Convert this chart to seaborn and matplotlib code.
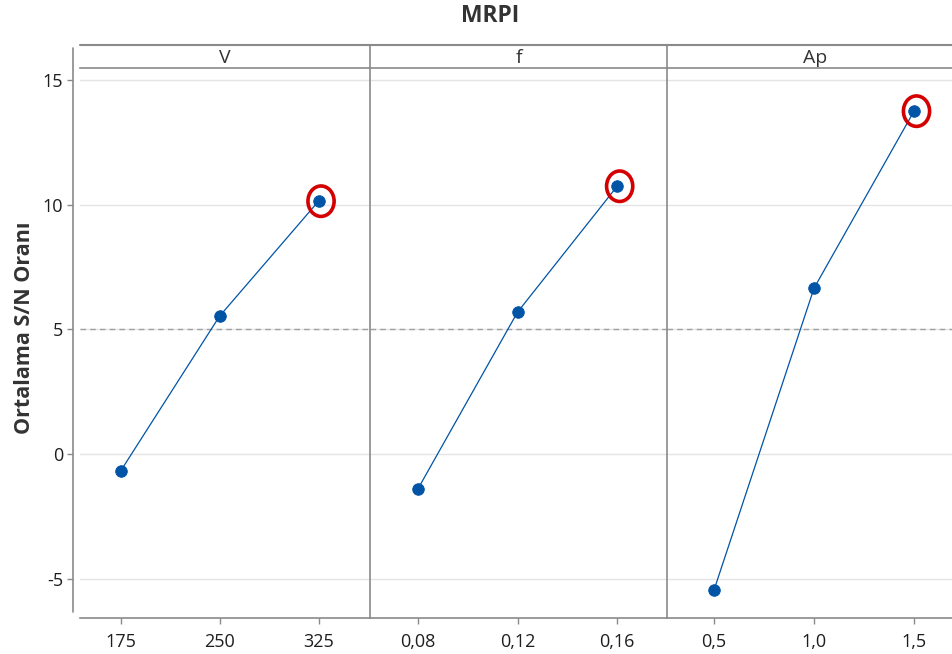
import numpy as np
import matplotlib
matplotlib.use("Agg")
import matplotlib.pyplot as plt
import seaborn as sns
from matplotlib.lines import Line2D
from matplotlib.path import Path
from matplotlib.transforms import Affine2D, ScaledTranslation, blended_transform_factory

## data (mean S/N per factor level)
factors = ["V", "f", "Ap"]
v_levels = ["175", "250", "325"]
v_sn = [-0.68, 5.53, 10.14]
f_levels = ["0,08", "0,12", "0,16"]
f_sn = [-1.40, 5.69, 10.74]
ap_levels = ["0,5", "1,0", "1,5"]
ap_sn = [-5.45, 6.65, 13.75]
grand_mean = 5.01
y_ticks = [-5, 0, 5, 10, 15]
y_ticklabels = ["-5", "0", "5", "10", "15"]

## style
sns.set_theme(style="white")
plt.rcParams["font.family"] = ["Open Sans", "DejaVu Sans"]

W, H = 952, 654
blue = "#0054a6"
red = "#d40000"
gray = "#8a8a8a"
txt = "#1e1e1e"

fig = plt.figure(figsize=(W / 100, H / 100), dpi=100)
gs = fig.add_gridspec(
    1, 3, left=80 / W, right=964 / W, bottom=1 - 618 / H, top=1 - 68 / H,
    wspace=0, width_ratios=[290, 297, 297],
)
axes = [fig.add_subplot(gs[0, i]) for i in range(3)]

# elliptical ring used to flag the best level (drawn a touch right of the dot)
ring = Path.unit_circle().transformed(Affine2D().scale(0.86, 1.0))
nudge = ScaledTranslation(2.5 / 100, 0, fig.dpi_scale_trans)

panels = [(v_levels, v_sn), (f_levels, f_sn), (ap_levels, ap_sn)]
xlims = [(-0.41, 2.52), (-0.48, 2.5), (-0.47, 2.5)]

for i, (ax, name, (levels, sn), xl) in enumerate(zip(axes, factors, panels, xlims)):
    ax.set_axisbelow(True)
    ax.grid(True, color="#e4e4e4", linewidth=1)
    ax.axhline(grand_mean, color="#a0a0a0", ls=(0, (4, 3)), lw=1, zorder=1)
    sns.pointplot(x=levels, y=sn, ax=ax, color=blue, markersize=8.3,
                  linewidth=0.9, zorder=3)
    best = int(np.argmax(sn))
    ax.scatter([best], [sn[best]], marker=ring, s=480, facecolors="none",
               edgecolors=red, linewidths=2.6, zorder=4,
               transform=ax.transData + nudge)

    ax.set_xlim(xl)
    ax.set_ylim(-6.57, 15.48)
    ax.set_yticks(y_ticks)
    ax.set_xlabel("")
    ax.set_ylabel("")

    for s in ["left", "right"]:
        ax.spines[s].set_visible(False)
    for s in ["top", "bottom"]:
        ax.spines[s].set_color(gray)
        ax.spines[s].set_linewidth(1.2)

    ax.tick_params(axis="x", bottom=True, length=4, width=1, color=gray,
                   labelsize=13, labelcolor=txt, pad=7)
    if i == 0:
        ax.spines["left"].set_position(("outward", 5))
        ax.set_yticklabels(y_ticklabels)
        ax.tick_params(axis="y", left=True, length=4, width=1, color=gray,
                       labelsize=13, labelcolor=txt, pad=3)
    else:
        ax.tick_params(axis="y", left=False, labelleft=False)

    # strip label
    tr = blended_transform_factory(ax.transAxes, fig.transFigure)
    ax.text(0.5, 1 - 58 / H, name, transform=tr, ha="center", va="center",
            fontsize=14, color="#333333")

## frame lines: strip top, panel separators, y axis line
fig.add_artist(Line2D([80 / W, 1], [1 - 45 / H] * 2, color=gray, lw=1.5))
for ax in axes[1:]:
    x0 = ax.get_position().x0
    fig.add_artist(Line2D([x0, x0], [1 - 45 / H, 1 - 618 / H], color=gray, lw=1.2))
fig.add_artist(Line2D([73 / W] * 2, [1 - 48 / H, 1 - 612 / H], color=gray, lw=1.2))

## titles
fig.text(490 / W, 1 - 16 / H, "MRPI", ha="center", va="center",
         fontsize=16.5, fontweight="bold", color="#333333")
fig.text(25 / W, 1 - 328 / H, "Ortalama S/N Oranı", rotation=90,
         ha="center", va="center", fontsize=15.5, fontweight="bold", color="#333333")

fig.savefig("out.png", dpi=100)
